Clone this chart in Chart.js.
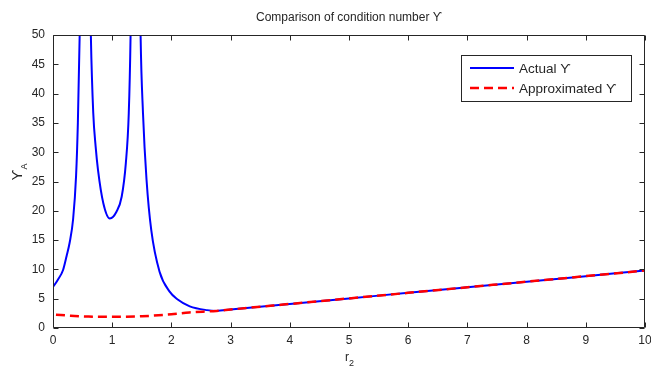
<!DOCTYPE html>
<html>
<head>
<meta charset="utf-8">
<script src="https://cdn.jsdelivr.net/npm/chart.js@4/dist/chart.umd.min.js"></script>
<style>
  html, body { margin: 0; padding: 0; background: #ffffff; }
  #wrap { width: 651px; height: 370px; position: relative; }
</style>
</head>
<body>
<div id="wrap"><canvas id="c" width="651" height="370"></canvas></div>
<script>
// ---- data ----
const titleText = 'Comparison of condition number \u03D2';
const seriesNames = ['Actual \u03D2', 'Approximated \u03D2'];
const xTicks = [0, 1, 2, 3, 4, 5, 6, 7, 8, 9, 10];
const yTicks = [0, 5, 10, 15, 20, 25, 30, 35, 40, 45, 50];

const actualX = [0, 0.08, 0.17, 0.23, 0.28, 0.34, 0.39, 0.42, 0.45, 0.48, 0.545, 0.61, 0.64, 0.68, 0.72, 0.76, 0.85, 0.96, 1.07, 1.16, 1.23, 1.28, 1.31, 1.34, 1.395, 1.45, 1.48, 1.52, 1.58, 1.66, 1.80, 1.97, 2.1, 2.31, 2.6, 2.76, 3, 4, 5, 6, 7, 8, 9, 10];
const actualY = [7.0, 8.2, 9.9, 12.3, 14.5, 18.6, 26.0, 35.0, 49.7, 70, 200, 70, 49.7, 36.7, 31, 27, 21.3, 18.7, 19.8, 22.4, 28.1, 36.7, 49.7, 75, 200, 75, 49.7, 36.7, 25.3, 16.7, 9.6, 6.2, 4.9, 3.7, 3.05, 2.92, 3.15, 4.1, 5.05, 6.0, 6.95, 7.9, 8.85, 9.8];

const approxX = [0.05, 0.3, 0.6, 1.0, 1.5, 2.0, 2.3, 2.76, 3, 4, 5, 6, 7, 8, 9, 10];
const approxY = [2.25, 2.1, 1.95, 1.9, 2.0, 2.35, 2.65, 2.92, 3.15, 4.1, 5.05, 6.0, 6.95, 7.9, 8.85, 9.8];

const toPoints = (xs, ys) => xs.map((x, i) => ({ x: x, y: ys[i] }));

const FONT = "'Liberation Sans', Arial, sans-serif";
const INK = '#262626';

const framePlugin = {
  id: 'frame',
  afterDraw(chart) {
    const { ctx, chartArea: a, scales } = chart;
    const xs = scales.x, ys = scales.y;
    ctx.save();
    ctx.strokeStyle = INK;
    ctx.lineWidth = 1;
    const L = Math.round(a.left) + 0.5, R = Math.round(a.right) - 0.5;
    const T = Math.round(a.top) + 0.5, B = Math.round(a.bottom) - 0.5;
    ctx.beginPath();
    ctx.rect(L, T, R - L, B - T);
    // inward ticks on all four sides
    xs.ticks.forEach(t => {
      const p = Math.round(xs.getPixelForValue(t.value)) + 0.5;
      ctx.moveTo(p, B); ctx.lineTo(p, B - 5);
      ctx.moveTo(p, T); ctx.lineTo(p, T + 5);
    });
    ys.ticks.forEach(t => {
      const p = Math.round(ys.getPixelForValue(t.value)) + 0.5;
      ctx.moveTo(L, p); ctx.lineTo(L + 5, p);
      ctx.moveTo(R, p); ctx.lineTo(R - 5, p);
    });
    ctx.stroke();

    const cx = (a.left + a.right) / 2;
    ctx.fillStyle = INK;

    // main title, centred over the axes
    ctx.font = '12px ' + FONT;
    ctx.textAlign = 'center';
    ctx.textBaseline = 'middle';
    ctx.fillText(titleText, cx, 18);

    // x title r_2
    ctx.textBaseline = 'alphabetic';
    ctx.font = '12px ' + FONT;
    ctx.textAlign = 'left';
    ctx.fillText('r', cx - 4, 361);
    ctx.font = '9px ' + FONT;
    ctx.fillText('2', cx + 0, 366);

    // y title Upsilon_A (rotated)
    ctx.save();
    ctx.translate(22, (a.top + a.bottom) / 2 - 8);
    ctx.rotate(-Math.PI / 2);
    ctx.font = '14px ' + FONT;
    ctx.textAlign = 'left';
    ctx.fillText('\u03D2', -7, 0);
    ctx.font = '9px ' + FONT;
    ctx.fillText('A', 4, 5);
    ctx.restore();

    // legend box inside the axes
    const bx = 461.5, by = 55.5, bw = 170, bh = 46;
    ctx.fillStyle = '#ffffff';
    ctx.fillRect(bx, by, bw, bh);
    ctx.strokeStyle = INK;
    ctx.lineWidth = 1;
    ctx.strokeRect(bx, by, bw, bh);
    chart.data.datasets.forEach((ds, i) => {
      const ly = 68 + i * 20;
      ctx.save();
      ctx.strokeStyle = ds.borderColor;
      ctx.lineWidth = ds.borderWidth;
      ctx.setLineDash(ds.borderDash || []);
      ctx.beginPath();
      ctx.moveTo(470, ly);
      ctx.lineTo(514, ly);
      ctx.stroke();
      ctx.restore();
      ctx.fillStyle = INK;
      ctx.font = '13.5px ' + FONT;
      ctx.textAlign = 'left';
      ctx.textBaseline = 'middle';
      ctx.fillText(ds.label, 519, ly + 1);
    });
    ctx.restore();
  }
};

new Chart(document.getElementById('c'), {
  type: 'line',
  data: {
    datasets: [
      {
        label: seriesNames[0],
        data: toPoints(actualX, actualY),
        borderColor: '#0000ff',
        borderWidth: 2,
        pointRadius: 0,
        cubicInterpolationMode: 'monotone',
        fill: false,
        order: 2
      },
      {
        label: seriesNames[1],
        data: toPoints(approxX, approxY),
        borderColor: '#ff0000',
        borderWidth: 2.5,
        borderDash: [9, 5],
        pointRadius: 0,
        cubicInterpolationMode: 'monotone',
        fill: false,
        order: 1
      }
    ]
  },
  options: {
    responsive: false,
    animation: false,
    layout: { padding: { left: 0, right: 6, top: 35, bottom: 0 } },
    plugins: {
      legend: { display: false },
      tooltip: { enabled: false },
      title: { display: false, text: titleText }
    },
    scales: {
      x: {
        type: 'linear',
        min: 0, max: 10,
        afterBuildTicks: s => { s.ticks = xTicks.map(v => ({ value: v })); },
        afterFit: s => { s.height = 42; s.paddingRight = 0; s.paddingLeft = 0; },
        grid: { display: false, drawTicks: false },
        border: { display: false },
        ticks: { color: INK, font: { family: FONT, size: 12 }, padding: 5, maxRotation: 0 }
      },
      y: {
        type: 'linear',
        min: 0, max: 50,
        afterBuildTicks: s => { s.ticks = yTicks.map(v => ({ value: v })); },
        afterFit: s => { s.width = 53; s.paddingTop = 0; s.paddingBottom = 0; },
        grid: { display: false, drawTicks: false },
        border: { display: false },
        ticks: { color: INK, font: { family: FONT, size: 12 }, padding: 8 }
      }
    }
  },
  plugins: [framePlugin]
});
</script>
</body>
</html>
